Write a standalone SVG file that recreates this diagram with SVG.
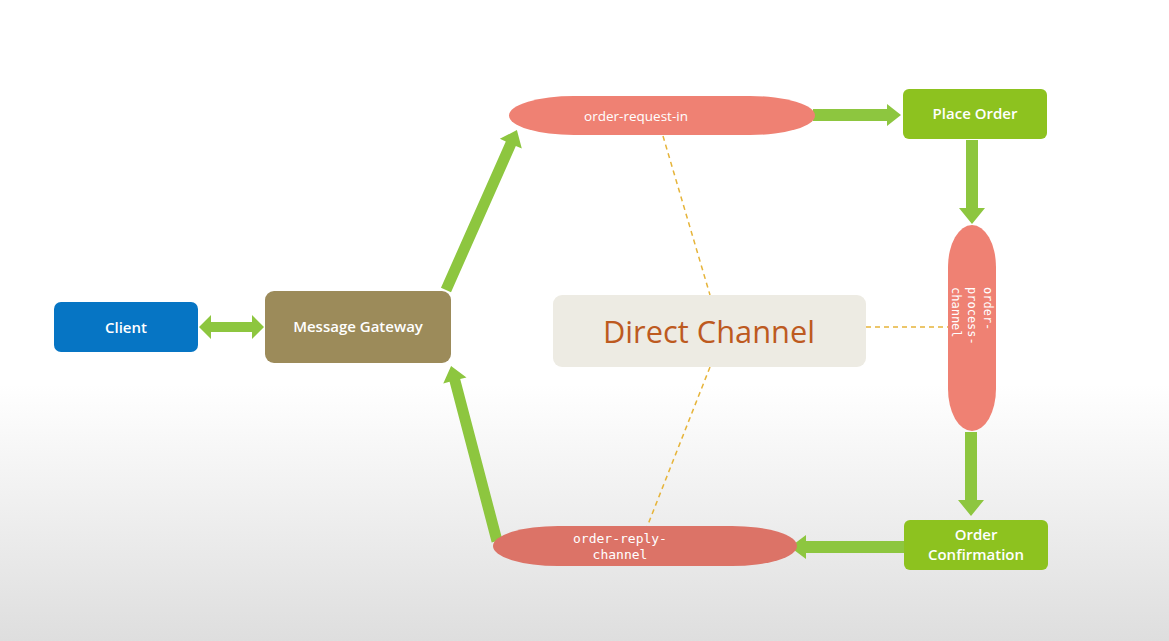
<svg xmlns="http://www.w3.org/2000/svg" width="1169" height="641" viewBox="0 0 1169 641">
<defs>
<linearGradient id="bg" x1="0" y1="0" x2="0" y2="1">
<stop offset="0" stop-color="#ffffff"/>
<stop offset="0.6" stop-color="#ffffff"/>
<stop offset="1" stop-color="#dedede"/>
</linearGradient>
<style>
.lbl{font-family:"Open Sans","DejaVu Sans",sans-serif;font-weight:600;font-size:15px;fill:#ffffff;text-anchor:middle}
.ch{fill:#EF8173}
.chtxt{font-family:"Open Sans","DejaVu Sans",sans-serif;font-size:13.5px;fill:#ffffff;text-anchor:middle}
.mono{font-family:"DejaVu Sans Mono","Liberation Mono",monospace;font-size:12px;fill:#ffffff}
.mono13{font-family:"DejaVu Sans Mono","Liberation Mono",monospace;font-size:13px;fill:#ffffff;text-anchor:middle}
.arr{fill:#8DC63F}
.dash{stroke:#E6B43A;stroke-width:1.5;stroke-dasharray:5 4;fill:none}
.green{fill:#8DC21F}
</style>
</defs>
<rect x="0" y="0" width="1169" height="641" fill="url(#bg)"/>

<g id="connectors">
<line class="dash" x1="663" y1="136" x2="710" y2="295"/>
<line class="dash" x1="710" y1="367" x2="647" y2="527"/>
<line class="dash" x1="866" y1="327" x2="948" y2="327"/>
<polygon class="arr" points="199,327 211,315 211,322 252,322 252,315 264,327 252,339 252,332 211,332 211,339"/>
<polygon class="arr" points="813,109 887,109 887,104 901,115 887,126 887,121 813,121"/>
<polygon class="arr" points="966,140 978,140 978,208 985,208 972,224 959,208 966,208"/>
<polygon class="arr" points="965,432 977,432 977,500 984,500 971,516 958,500 965,500"/>
<polygon class="arr" points="904,541 904,553 806,553 806,559 790,547 806,535 806,541"/>
<polygon class="arr" transform="translate(446,290) rotate(-66.1)" points="0,-5.5 160,-5.5 160,-12 175,0 160,12 160,5.5 0,5.5"/>
<polygon class="arr" transform="translate(497,541) rotate(-104.7)" points="0,-5.5 166,-5.5 166,-12 181,0 166,12 166,5.5 0,5.5"/>
</g>

<g id="client">
<rect x="54" y="302" width="144" height="50" rx="7" fill="#0675C4"/>
<text class="lbl" x="126" y="333">Client</text>
</g>

<g id="message-gateway">
<rect x="265" y="291" width="186" height="72" rx="9" fill="#9C8B5A"/>
<text class="lbl" x="358" y="332">Message Gateway</text>
</g>

<g id="order-request-in">
<rect class="ch" x="509" y="96" width="306" height="39" rx="65" ry="19.5"/>
<text class="chtxt" x="636" y="121">order-request-in</text>
</g>

<g id="place-order">
<rect class="green" x="903" y="89" width="144" height="50" rx="6"/>
<text class="lbl" x="975" y="119">Place Order</text>
</g>

<g id="order-process-channel">
<rect class="ch" x="948" y="225" width="48" height="206" rx="24" ry="42"/>
<text class="mono" transform="translate(984,287) rotate(90)"><tspan x="0" y="0">order-</tspan><tspan x="0" y="16">process-</tspan><tspan x="0" y="32">channel</tspan></text>
</g>

<g id="direct-channel">
<rect x="553" y="295" width="313" height="72" rx="9" fill="#EDEBE3"/>
<text x="709" y="343" font-family="Open Sans, DejaVu Sans, sans-serif" font-size="31" fill="#BD5A1F" text-anchor="middle" textLength="212" lengthAdjust="spacingAndGlyphs">Direct Channel</text>
</g>

<g id="order-confirmation">
<rect class="green" x="904" y="520" width="144" height="50" rx="6"/>
<text class="lbl" x="976" y="540">Order</text>
<text class="lbl" x="976" y="560">Confirmation</text>
</g>

<g id="order-reply-channel">
<rect x="493" y="526" width="304" height="40" rx="65" ry="20" fill="#DC7367"/>
<text class="mono13" x="620" y="543">order-reply-</text>
<text class="mono13" x="620" y="559">channel</text>
</g>
</svg>
